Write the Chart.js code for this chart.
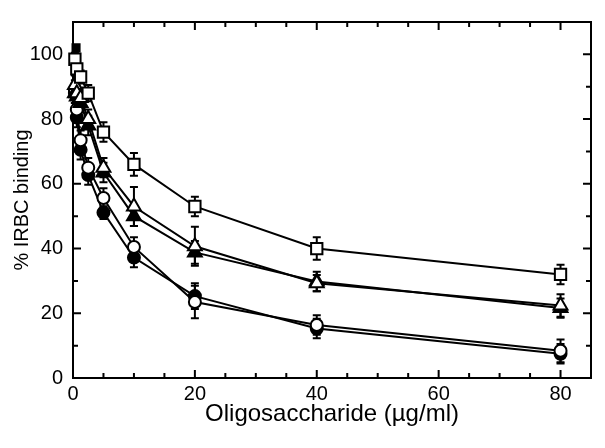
<!DOCTYPE html>
<html>
<head>
<meta charset="utf-8">
<script src="https://cdn.jsdelivr.net/npm/chart.js@4.4.1/dist/chart.umd.min.js"></script>
<style>
  html, body { margin: 0; padding: 0; background: #fff; }
</style>
</head>
<body>
<canvas id="chart" width="605" height="448"></canvas>
<script>
/* --------------- Data --------------------- */
const conc = [0.3125, 0.625, 1.25, 2.5, 5, 10, 20, 40, 80];

const openSquares     = [98.5, 95.5, 93, 88, 76, 66, 53, 40, 32];
const openTriangles   = [90.5, 88, 86.5, 80, 65, 53, 40.7, 29.3, 22.4];
const filledTriangles = [88, 87, 85, 78, 63.5, 50, 38.8, 29.8, 21.6];
const openCircles     = [89, 83, 73.5, 65, 55.6, 40.5, 23.5, 16.4, 8.4];
const filledCircles   = [88, 80.5, 70.5, 62.7, 51.1, 37.2, 25.3, 15.3, 7.5];

const openSquaresErr     = [2, 2, 2, 2.5, 3, 3.5, 3, 3.5, 3];
const openTrianglesErr   = [3, 3, 3, 3, 3, 6, 6, 2.5, 3.5];
const filledTrianglesErr = [3, 3, 3, 3, 3, 3, 3.5, 3, 3];
const openCirclesErr     = [3, 3, 3, 3, 3, 3, 5, 3, 3.5];
const filledCirclesErr   = [3, 3, 3, 3, 2, 3, 4, 3, 3];

const controlX = [0.5];
const controlY = [102];

const xTicks = [0, 20, 40, 60, 80];
const yTicks = [0, 20, 40, 60, 80, 100];

const pts = (ys) => ys.map((y, i) => ({ x: conc[i], y: y }));

/* --------------- Error bars --------------------- */
const errorBars = {
  id: "errorBars",
  beforeDatasetsDraw(chart) {
    const { ctx, scales: { x, y } } = chart;
    ctx.save();
    ctx.strokeStyle = "#000";
    ctx.lineWidth = 2;
    chart.data.datasets.forEach((ds) => {
      if (!ds.errors) return;
      ds.data.forEach((p, i) => {
        const e = ds.errors[i];
        const px = x.getPixelForValue(p.x);
        const top = y.getPixelForValue(p.y + e);
        const bot = y.getPixelForValue(p.y - e);
        ctx.beginPath();
        ctx.moveTo(px, top); ctx.lineTo(px, bot);
        ctx.moveTo(px - 4, top); ctx.lineTo(px + 4, top);
        ctx.moveTo(px - 4, bot); ctx.lineTo(px + 4, bot);
        ctx.stroke();
      });
    });
    ctx.restore();
  },
};

/* --------------- Frame with inward ticks --------------------- */
const frame = {
  id: "frame",
  beforeDatasetsDraw(chart) {
    const { ctx, chartArea: a, scales: { x, y } } = chart;
    ctx.save();
    ctx.strokeStyle = "#000";
    ctx.lineWidth = 2;
    ctx.strokeRect(a.left, a.top, a.right - a.left, a.bottom - a.top);
    ctx.beginPath();
    for (let v = 0; v <= 85; v += 5) {
      const px = x.getPixelForValue(v);
      const len = v % 20 === 0 ? 8 : 5;
      ctx.moveTo(px, a.bottom); ctx.lineTo(px, a.bottom - len);
      ctx.moveTo(px, a.top); ctx.lineTo(px, a.top + len);
    }
    for (let v = 0; v <= 110; v += 10) {
      const py = y.getPixelForValue(v);
      const len = v % 20 === 0 ? 8 : 5;
      ctx.moveTo(a.left, py); ctx.lineTo(a.left + len, py);
      ctx.moveTo(a.right, py); ctx.lineTo(a.right - len, py);
    }
    ctx.stroke();
    ctx.restore();
  },
};

const base = {
  borderColor: "#000",
  borderWidth: 2,
  pointBorderColor: "#000",
  pointBorderWidth: 2,
  showLine: true,
  clip: false,
  tension: 0,
};

new Chart(document.getElementById("chart"), {
  type: "scatter",
  plugins: [frame, errorBars],
  data: {
    datasets: [
      { ...base, data: pts(openSquares), errors: openSquaresErr, pointStyle: "rect", pointRadius: 8, pointBackgroundColor: "#fff" },
      { ...base, data: pts(openTriangles), errors: openTrianglesErr, pointStyle: "triangle", pointRadius: 8, pointBackgroundColor: "#fff" },
      { ...base, data: pts(filledTriangles), errors: filledTrianglesErr, pointStyle: "triangle", pointRadius: 8, pointBackgroundColor: "#000" },
      { ...base, data: pts(openCircles), errors: openCirclesErr, pointStyle: "circle", pointRadius: 6, pointBackgroundColor: "#fff" },
      { ...base, data: pts(filledCircles), errors: filledCirclesErr, pointStyle: "circle", pointRadius: 6, pointBackgroundColor: "#000" },
      { ...base, showLine: false, data: controlX.map((v, i) => ({ x: v, y: controlY[i] })), pointStyle: "rect", pointRadius: 5, pointBackgroundColor: "#000" },
    ],
  },
  options: {
    responsive: false,
    animation: false,
    layout: { padding: { top: 7, right: 14, left: 0, bottom: 0 } },
    plugins: { legend: { display: false }, tooltip: { enabled: false } },
    scales: {
      x: {
        type: "linear",
        min: 0,
        max: 85,
        afterBuildTicks: (s) => { s.ticks = xTicks.map((v) => ({ value: v })); },
        afterFit: (s) => { s.height = 70; },
        grid: { display: false, drawTicks: false },
        border: { display: false },
        ticks: { color: "#000", padding: 4, font: { family: "Liberation Sans", size: 20 } },
        title: {
          display: true,
          text: "Oligosaccharide (\u00b5g/ml)",
          color: "#000",
          font: { family: "Liberation Sans", size: 24 },
          padding: { top: 0, bottom: 19 },
        },
      },
      y: {
        type: "linear",
        min: 0,
        max: 110,
        afterBuildTicks: (s) => { s.ticks = yTicks.map((v) => ({ value: v })); },
        afterFit: (s) => { s.width = 73; },
        grid: { display: false, drawTicks: false },
        border: { display: false },
        ticks: { color: "#000", padding: 10, font: { family: "Liberation Sans", size: 20 } },
        title: {
          display: true,
          text: "% IRBC binding",
          color: "#000",
          font: { family: "Liberation Sans", size: 20 },
          padding: { top: 10, bottom: 0 },
        },
      },
    },
  },
});
</script>
</body>
</html>
